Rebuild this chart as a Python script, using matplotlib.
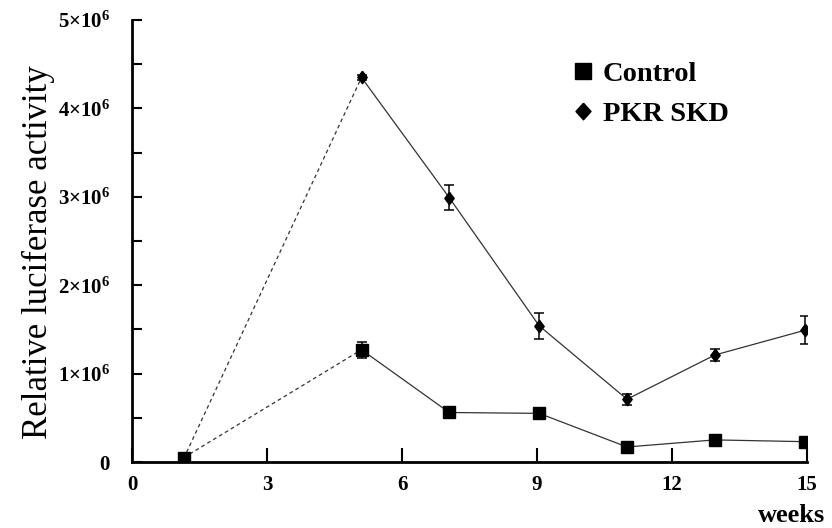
import matplotlib
matplotlib.use("Agg")
import matplotlib.pyplot as plt
from matplotlib.lines import Line2D

plt.rcParams['font.family'] = ['Liberation Serif', 'DejaVu Serif']
plt.rcParams['font.weight'] = 'bold'
plt.rcParams['mathtext.fontset'] = 'custom'
plt.rcParams['mathtext.rm'] = 'Liberation Serif:bold'
plt.rcParams['mathtext.bf'] = 'Liberation Serif:bold'
plt.rcParams['mathtext.it'] = 'Liberation Serif:bold'

weeks = [1.15, 5.1, 7.05, 9.05, 11.0, 12.95, 14.95]
control = [0.05e6, 1.27e6, 0.56e6, 0.55e6, 0.17e6, 0.25e6, 0.23e6]
control_err = [0.02e6, 0.09e6, 0.03e6, 0.03e6, 0.03e6, 0.04e6, 0.03e6]
pkr = [0.04e6, 4.35e6, 2.99e6, 1.54e6, 0.71e6, 1.21e6, 1.49e6]
pkr_err = [0.02e6, 0.03e6, 0.14e6, 0.15e6, 0.06e6, 0.07e6, 0.16e6]
xticks = [0, 3, 6, 9, 12, 15]
yticks = [0, 1e6, 2e6, 3e6, 4e6, 5e6]
ytick_labels = ['0', r'$1{\times}10^6$', r'$2{\times}10^6$', r'$3{\times}10^6$',
                r'$4{\times}10^6$', r'$5{\times}10^6$']

diamond = [(0, 1), (0.75, 0), (0, -1), (-0.75, 0), (0, 1)]
diamond_leg = [(0, 1), (0.9, 0), (0, -1), (-0.9, 0), (0, 1)]

fig = plt.figure(figsize=(8.32, 5.28), dpi=100)
ax = fig.add_axes([132/832, 1-462/528, (807-132)/832, (462-20)/528])

lc = '#333333'
for ys in (control, pkr):
    ax.plot(weeks[:2], ys[:2], ls=(0, (3, 2.5)), color=lc, lw=0.9, zorder=2)
    ax.plot(weeks[1:], ys[1:], ls='-', color=lc, lw=0.9, zorder=2)

ax.errorbar(weeks, control, yerr=control_err, fmt='s', color='black', ms=8,
            ecolor='black', elinewidth=1.1, capsize=3.5, capthick=1.1, zorder=3)
ax.errorbar(weeks, pkr, yerr=pkr_err, fmt='none', ecolor='black',
            elinewidth=1.1, capsize=3.5, capthick=1.1, zorder=3)
ax.plot(weeks, pkr, ls='none', marker=diamond, color='black', ms=9, zorder=4)

ax.set_xlim(0, 15)
ax.set_ylim(0, 5e6)
ax.set_xticks(xticks)
ax.set_xticklabels([str(t) for t in xticks], fontsize=15, fontweight='bold')
ax.set_yticks(yticks)
ax.set_yticklabels(ytick_labels, fontsize=15)
ax.set_yticks([0.5e6 * i for i in range(11)], minor=True)
ax.tick_params(axis='y', which='both', direction='in', length=7, width=1.5, pad=16)
ax.tick_params(axis='x', direction='in', length=10, width=1.5, pad=9)
ax.spines['top'].set_visible(False)
ax.spines['right'].set_visible(False)
ax.spines['left'].set_linewidth(2)
ax.spines['bottom'].set_linewidth(2)

fig.text(38/832, 1-252/528, 'Relative luciferase activity', fontsize=25, fontweight='normal',
         rotation=90, ha='center', va='center')
fig.text(792/832, 1-516/528, 'weeks', fontsize=19, fontweight='bold', ha='center', va='center')

handles = [Line2D([], [], marker='s', color='black', ls='none', ms=11),
           Line2D([], [], marker=diamond_leg, color='black', ls='none', ms=12)]
ax.legend(handles, ['Control', 'PKR SKD'], loc='upper left', bbox_to_anchor=(0.617, 0.965),
          frameon=False, prop={'size': 20.5, 'weight': 'bold'}, handlelength=0.6,
          handletextpad=0.4, labelspacing=0.5)

fig.savefig('out.png', dpi=100)
